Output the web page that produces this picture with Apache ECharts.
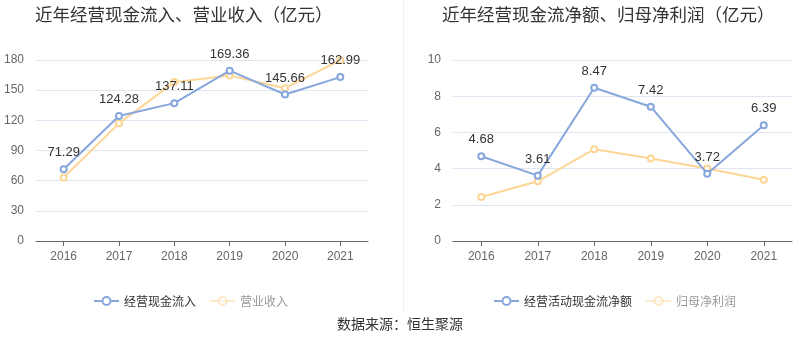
<!DOCTYPE html>
<html><head><meta charset="utf-8">
<script src="https://cdn.jsdelivr.net/npm/echarts@6/dist/echarts.min.js"></script>
<style>html,body{margin:0;padding:0;background:#fff}#c{width:800px;height:358px}</style>
</head><body><div id="c"></div>
<script>
const years = ['2016','2017','2018','2019','2020','2021'];
const cashInflow = [71.29,124.28,137.11,169.36,145.66,162.99];
const revenue = [63.2,117,158,164.5,152,179.8];
const netCashFlow = [4.68,3.61,8.47,7.42,3.72,6.39];
const netProfit = [2.43,3.30,5.07,4.56,4.00,3.38];
const leftTicks = {min:0,max:180,interval:30};
const rightTicks = {min:0,max:10,interval:2};

const BLUE = '#86a6dc', ORANGE = '#fdd595';
const font = '"Liberation Sans", "Noto Sans CJK SC", sans-serif';
const cjk = '"Noto Sans CJK SC", sans-serif';
const chart = echarts.init(document.getElementById('c'), null, {renderer:'canvas'});
function xAxis(i){return {type:'category',gridIndex:i,data:years,boundaryGap:true,
  axisLine:{lineStyle:{color:'#666'}},axisTick:{show:true,alignWithLabel:true,lineStyle:{color:'#666'}},
  axisLabel:{color:'#666',fontSize:12,margin:10,fontFamily:font}};}
function yAxis(i,t){return {type:'value',gridIndex:i,min:t.min,max:t.max,interval:t.interval,
  axisLine:{show:false},axisTick:{show:false},
  axisLabel:{color:'#666',fontSize:12,margin:12,fontFamily:font},
  splitLine:{lineStyle:{color:'#e0e6f1'}}};}
function line(name,data,color,xi,label,z){return {name,type:'line',xAxisIndex:xi,yAxisIndex:xi,data,
  symbol:'emptyCircle',symbolSize:6,z:z,lineStyle:{width:2,color},itemStyle:{color,borderWidth:1.5},
  label:{show:label,position:'top',color:'#333',fontSize:13,distance:6,fontFamily:font}};}
const legendCommon = {top:290,itemWidth:25,itemHeight:10,itemGap:13,
  textStyle:{fontSize:12,color:'#333',fontFamily:cjk}};
chart.setOption({
  animation:false,
  title:[
    {text:'近年经营现金流入、营业收入（亿元）',left:30,top:1,textStyle:{fontSize:17.5,fontWeight:'normal',color:'#333',fontFamily:cjk}},
    {text:'近年经营现金流净额、归母净利润（亿元）',left:437,top:1,textStyle:{fontSize:17.5,fontWeight:'normal',color:'#333',fontFamily:cjk}}
  ],
  legend:[
    Object.assign({left:88,data:[{name:'经营现金流入'},{name:'营业收入',textStyle:{color:'#999'},itemStyle:{opacity:0.5},lineStyle:{opacity:0.5}}]},legendCommon),
    Object.assign({left:488,data:[{name:'经营活动现金流净额'},{name:'归母净利润',textStyle:{color:'#999'},itemStyle:{opacity:0.5},lineStyle:{opacity:0.5}}]},legendCommon)
  ],
  grid:[{left:36,right:432,top:60,bottom:117},{left:453,right:8,top:60,bottom:117}],
  xAxis:[xAxis(0),xAxis(1)],
  yAxis:[yAxis(0,leftTicks),yAxis(1,rightTicks)],
  series:[
    line('经营现金流入',cashInflow,BLUE,0,true,3),
    line('营业收入',revenue,ORANGE,0,false,2),
    line('经营活动现金流净额',netCashFlow,BLUE,1,true,3),
    line('归母净利润',netProfit,ORANGE,1,false,2)
  ],
  graphic:[
    {type:'line',shape:{x1:403.5,y1:0,x2:403.5,y2:310},style:{stroke:'#eeeeee',lineWidth:1}},
    {type:'text',left:'center',top:317,style:{text:'数据来源：恒生聚源',fill:'#333',font:'14px '+cjk}}
  ]
});
</script></body></html>
